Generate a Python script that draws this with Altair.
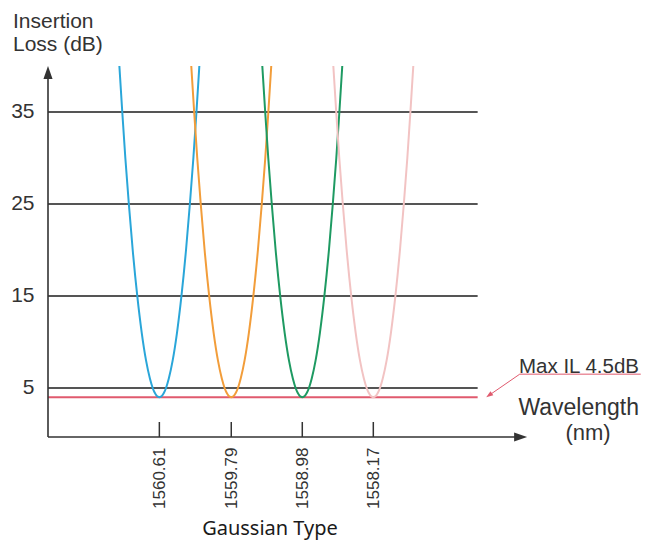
import altair as alt
import pandas as pd

# ---- data ----
centers = [1560.61, 1559.79, 1558.98, 1558.17]          # channel centre wavelengths (nm)
curve_names = ["1560.61", "1559.79", "1558.98", "1558.17"]
curve_colors = ["#2aa6d9", "#f29d3a", "#1e9a62", "#f2c3c3"]
# one side of each passband: insertion loss (dB) vs distance from centre (nm)
loss_levels = [40, 35, 30, 25, 20, 15, 11, 8, 6, 5, 4.5, 4.2, 4.05, 4.0]
half_widths = [0.456, 0.423, 0.388, 0.348, 0.304, 0.252, 0.201, 0.152, 0.107, 0.076, 0.054, 0.034, 0.017, 0.0]
grid_values = [5, 15, 25, 35]
max_il_value = 4.0
x_domain = [1556.44, 1561.88]
y_domain = [-0.33, 40.65]
grid_x_start, grid_x_end = 1561.88, 1556.98

# ---- tables built from the arrays ----
rows = []
for name, c in zip(curve_names, centers):
    k = 0
    for L, h in zip(loss_levels, half_widths):
        rows.append({"curve": name, "wl": c + h, "loss": L, "order": k}); k += 1
    for L, h in list(zip(loss_levels, half_widths))[::-1][1:]:
        rows.append({"curve": name, "wl": c - h, "loss": L, "order": k}); k += 1
curves_df = pd.DataFrame(rows)

grid_df = pd.DataFrame({"y": grid_values, "x": grid_x_start, "x2": grid_x_end})
red_df = pd.DataFrame({"y": [max_il_value], "x": [grid_x_start], "x2": [grid_x_end]})
ticks_df = pd.DataFrame({"x": centers, "y": y_domain[0], "y2": 1.3})

xs = alt.Scale(domain=x_domain, reverse=True, nice=False, zero=False)
ys = alt.Scale(domain=y_domain, nice=False, zero=False)
FONT = "Liberation Sans"
TXT = "#333333"

XAX = alt.Axis(values=centers, title=None, ticks=False, domain=False, grid=False,
               labelAngle=270, labelFontSize=17, labelFont=FONT, labelColor=TXT,
               labelPadding=10, format=".2f")
YAX = alt.Axis(values=grid_values, title=None, ticks=False, domain=False, grid=False,
               labelFontSize=21, labelFont=FONT, labelColor=TXT, labelPadding=14)

def X(f):
    return alt.X(f, scale=xs, axis=XAX)

def Y(f):
    return alt.Y(f, scale=ys, axis=YAX)

grid = alt.Chart(grid_df).mark_rule(color="#555555", strokeWidth=2).encode(
    x=X("x:Q"), x2="x2:Q", y=Y("y:Q"))

red = alt.Chart(red_df).mark_rule(color="#e05a6e", strokeWidth=2).encode(
    x=X("x:Q"), x2="x2:Q", y=Y("y:Q"))

lines = alt.Chart(curves_df).mark_line(strokeWidth=2, interpolate="monotone").encode(
    x=X("wl:Q"), y=Y("loss:Q"),
    color=alt.Color("curve:N", scale=alt.Scale(domain=curve_names, range=curve_colors), legend=None),
    order="order:Q",
)

# axis lines with arrow heads
yaxis_df = pd.DataFrame({"x": [x_domain[1]], "y": [y_domain[0]], "y2": [39.0]})
xaxis_df = pd.DataFrame({"y": [y_domain[0]], "x": [x_domain[1]], "x2": [1556.55]})
yaxis = alt.Chart(yaxis_df).mark_rule(color="#333333", strokeWidth=1.6).encode(
    x=X("x:Q"), y=Y("y:Q"), y2="y2:Q")
xaxis = alt.Chart(xaxis_df).mark_rule(color="#333333", strokeWidth=1.6).encode(
    y=Y("y:Q"), x=X("x:Q"), x2="x2:Q")
yarrow = alt.Chart(pd.DataFrame({"x": [x_domain[1]], "y": [39.3]})).mark_point(
    shape="M0,-1L0.7,1L-0.7,1Z", filled=True, size=169, color="#333333", opacity=1).encode(
    x=X("x:Q"), y=Y("y:Q"))
xarrow = alt.Chart(pd.DataFrame({"x": [1556.49], "y": [y_domain[0]]})).mark_point(
    shape="M1,0L-1,-0.7L-1,0.7Z", filled=True, size=169, color="#333333", opacity=1).encode(
    x=X("x:Q"), y=Y("y:Q"))

xticks = alt.Chart(ticks_df).mark_rule(color="#333333", strokeWidth=1.5).encode(
    x=X("x:Q"), y=Y("y:Q"), y2="y2:Q")

# annotation pointer for Max IL
ann_df = pd.DataFrame({"x": [1556.85, 1556.50, 1555.12], "y": [4.2, 6.5, 6.5], "o": [0, 1, 2]})
ann = alt.Chart(ann_df).mark_line(color="#e05a6e", strokeWidth=1).encode(
    x=X("x:Q"), y=Y("y:Q"), order="o:Q")
ann_head = alt.Chart(pd.DataFrame({"x": [1556.85], "y": [4.2]})).mark_point(
    shape="M1,0L-1,-0.7L-1,0.7Z", filled=True, size=49, angle=145, color="#e05a6e", opacity=1).encode(
    x=X("x:Q"), y=Y("y:Q"))

one = pd.DataFrame({"a": [0]})
def label(txt, x, y, size, align="left", font=FONT, color=TXT):
    return alt.Chart(one).mark_text(text=txt, x=x, y=y, fontSize=size, font=font,
                                    color=color, align=align, baseline="alphabetic")

t1 = label("Insertion", -35, -32, 21)
t2 = label("Loss (dB)", -35, -9, 21)
t3 = label("Max IL 4.5dB", 591, 313, 20.5, align="right")
t4 = label("Wavelength", 591, 355, 23, align="right")
t5 = label("(nm)", 540, 380, 22, align="center")
t6 = label("Gaussian Type", 222, 475, 20, align="center", font="Noto Sans", color="#1a1a1a")

chart = alt.layer(
    grid, red, lines, xticks, yaxis, xaxis, yarrow, xarrow, ann, ann_head,
    t1, t2, t3, t4, t5, t6
).properties(
    width=477, height=377,
    padding={"left": 40, "top": 52, "right": 116, "bottom": 103},
    autosize=alt.AutoSizeParams(type="none"),
    background="white",
).configure_view(stroke=None)

chart.save("out.html", embed_options={"renderer": "svg", "actions": False})
